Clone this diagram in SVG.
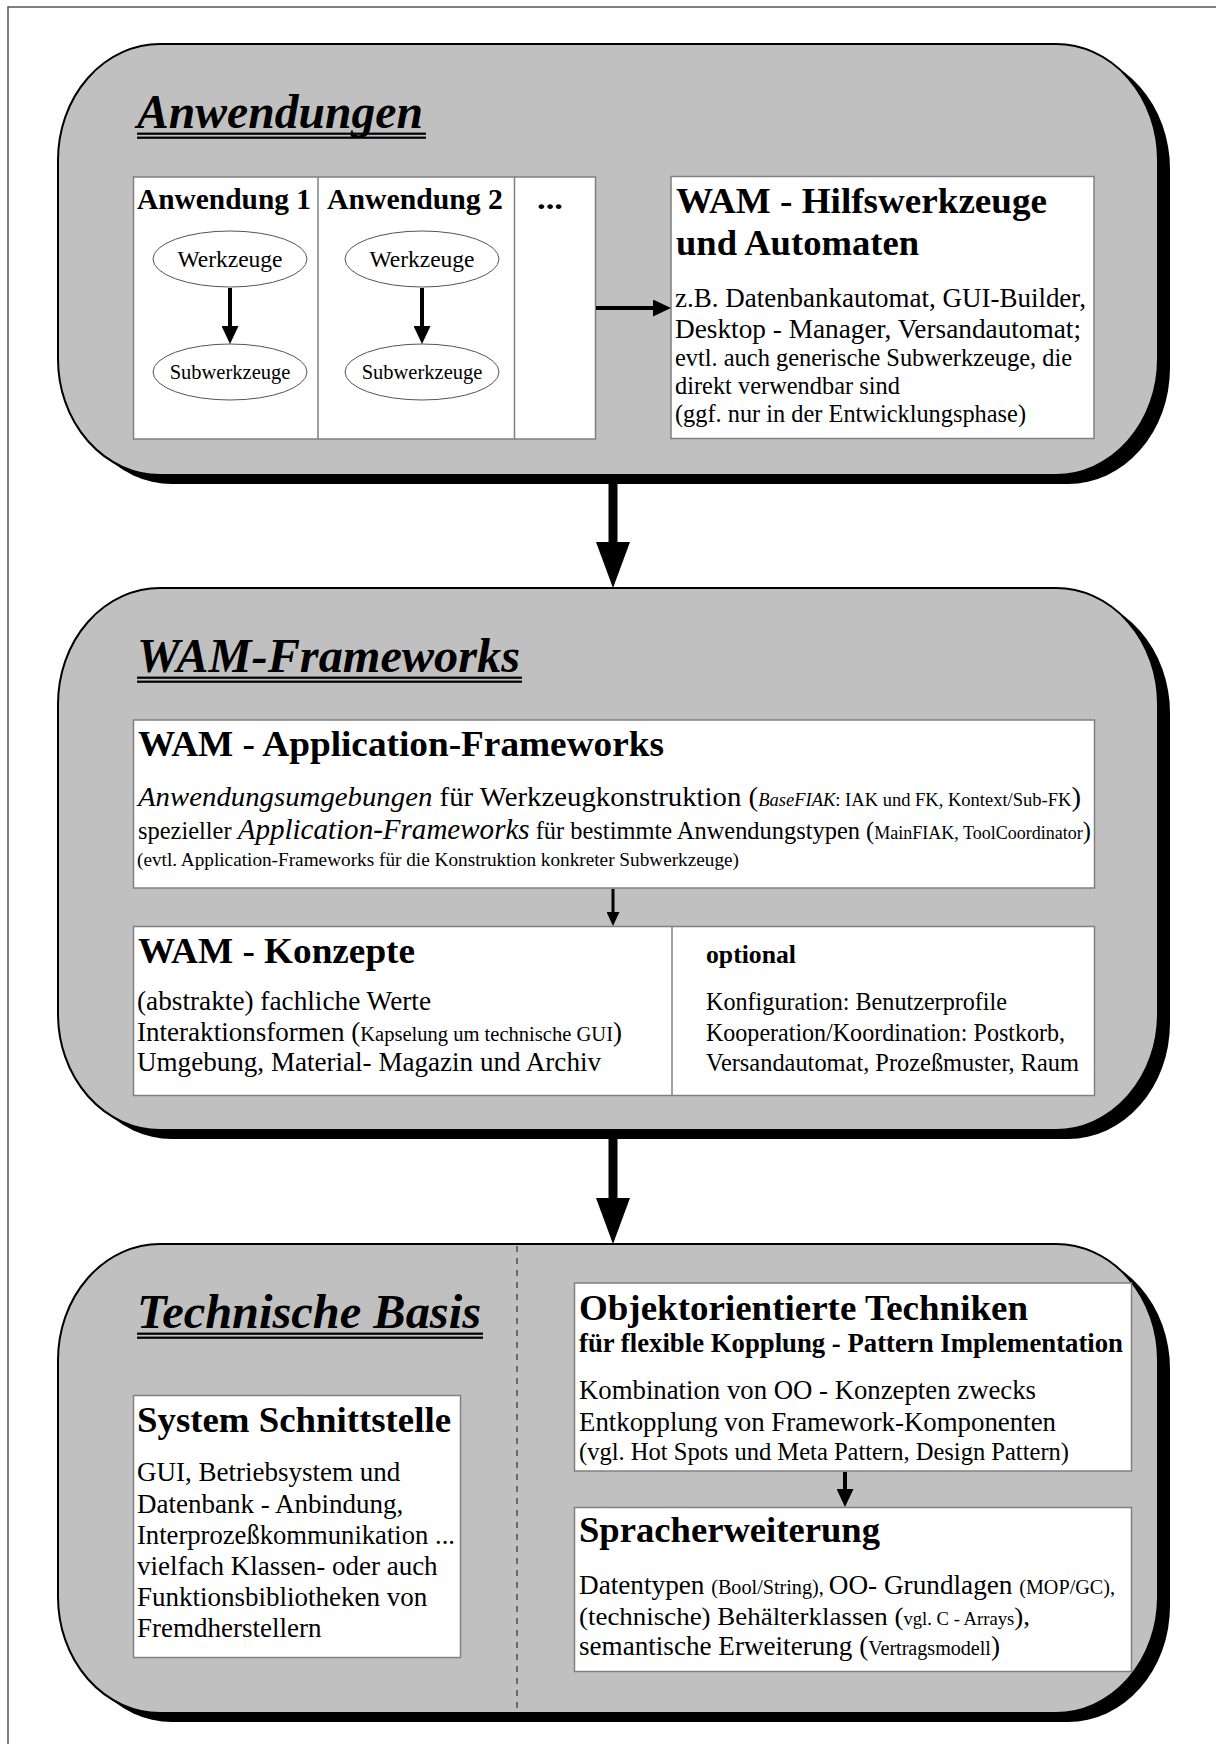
<svg xmlns="http://www.w3.org/2000/svg" width="1216" height="1744" viewBox="0 0 1216 1744">
  <style>
    text { font-family: 'Liberation Serif', 'Times New Roman', serif; fill: #000; }
    .frame { stroke: #555; stroke-width: 1.5; fill: none; }
    .panel { fill: #c0c0c0; stroke: #000; stroke-width: 2; }
    .shadow { fill: #000; }
    .box { fill: #fff; stroke: #808080; stroke-width: 1.5; }
    .sep { stroke: #808080; stroke-width: 1.5; }
    .oval { fill: #fff; stroke: #555; stroke-width: 1; }
    .uline { fill: #000; }
    .ttl { font-size: 47.5px; font-weight: bold; font-style: italic; }
    .h1 { font-size: 36.7px; font-weight: bold; }
    .h2 { font-size: 30px; font-weight: bold; }
    .hb { font-size: 26.7px; font-weight: bold; }
    .hs { font-size: 25.5px; font-weight: bold; }
    .t29 { font-size: 29px; }
    .t28 { font-size: 28px; }
    .t27 { font-size: 27px; }
    .t26 { font-size: 26px; }
    .t24 { font-size: 24.4px; }
    .t205 { font-size: 20.5px; }
    .t20 { font-size: 20px; }
    .t19 { font-size: 19px; }
    .t18 { font-size: 18px; }
    .it { font-style: italic; }
    .wz { font-size: 23.5px; }
    .swz { font-size: 20.5px; }
    .big { stroke: #000; stroke-width: 9; fill: none; }
    .mid { stroke: #000; stroke-width: 4; fill: none; }
    .small { stroke: #000; stroke-width: 3; fill: none; }
    .dash { stroke: #333; stroke-width: 1.2; stroke-dasharray: 6 6; }
  </style>
  <defs>
    <marker id="headBig" markerUnits="userSpaceOnUse" markerWidth="46" markerHeight="34" viewBox="0 0 46 34" refX="1" refY="17" orient="auto">
      <path d="M0,0 L46,17 L0,34 Z" fill="#000"/>
    </marker>
    <marker id="headMid" markerUnits="userSpaceOnUse" markerWidth="18" markerHeight="17" viewBox="0 0 18 17" refX="1" refY="8.5" orient="auto">
      <path d="M0,0 L18,8.5 L0,17 Z" fill="#000"/>
    </marker>
    <marker id="headSmall" markerUnits="userSpaceOnUse" markerWidth="14" markerHeight="13" viewBox="0 0 14 13" refX="1" refY="6.5" orient="auto">
      <path d="M0,0 L14,6.5 L0,13 Z" fill="#000"/>
    </marker>
  </defs>

  <rect width="1216" height="1744" fill="#fff"/>
  <!-- page frame -->
  <path class="frame" d="M8,1744 L8,7 L1216,7"/>

  <!-- layer: Anwendungen -->
  <g id="panel-anwendungen">
    <rect class="shadow" x="70" y="53" width="1100" height="431" rx="102" ry="116"/>
    <rect class="panel" x="58" y="44" width="1100" height="431" rx="102" ry="116"/>
    <text class="ttl" x="137" y="128" textLength="286" lengthAdjust="spacingAndGlyphs">Anwendungen</text>
    <rect class="uline" x="137" y="132.6" width="289" height="2.2"/>
    <rect class="uline" x="137" y="136.6" width="289" height="2.2"/>
  </g>

  <g id="node-anwendungen-liste">
    <rect class="box" x="133.5" y="177" width="462" height="262"/>
    <line class="sep" x1="318" y1="177" x2="318" y2="439"/>
    <line class="sep" x1="514.5" y1="177" x2="514.5" y2="439"/>
    <text class="h2" x="137" y="209" textLength="174" lengthAdjust="spacingAndGlyphs">Anwendung 1</text>
    <text class="h2" x="327" y="209" textLength="176" lengthAdjust="spacingAndGlyphs">Anwendung 2</text>
    <text class="h2" x="537" y="209" textLength="26" lengthAdjust="spacingAndGlyphs">...</text>
  </g>

  <g id="node-werkzeuge-1">
    <ellipse class="oval" cx="230" cy="259" rx="77" ry="28"/>
    <text class="wz" x="230" y="267" text-anchor="middle">Werkzeuge</text>
  </g>
  <g id="node-subwerkzeuge-1">
    <ellipse class="oval" cx="230" cy="372" rx="77" ry="28"/>
    <text class="swz" x="230" y="379" text-anchor="middle">Subwerkzeuge</text>
  </g>
  <g id="node-werkzeuge-2">
    <ellipse class="oval" cx="422" cy="259" rx="77" ry="28"/>
    <text class="wz" x="422" y="267" text-anchor="middle">Werkzeuge</text>
  </g>
  <g id="node-subwerkzeuge-2">
    <ellipse class="oval" cx="422" cy="372" rx="77" ry="28"/>
    <text class="swz" x="422" y="379" text-anchor="middle">Subwerkzeuge</text>
  </g>

  <g id="node-hilfswerkzeuge">
    <rect class="box" x="671" y="176.5" width="423" height="262"/>
    <text class="h1" x="676" y="213" textLength="371" lengthAdjust="spacingAndGlyphs">WAM - Hilfswerkzeuge</text>
    <text class="h1" x="676" y="255" textLength="243" lengthAdjust="spacingAndGlyphs">und Automaten</text>
    <text class="t27" x="675" y="307" textLength="411" lengthAdjust="spacingAndGlyphs">z.B. Datenbankautomat, GUI-Builder,</text>
    <text class="t27" x="675" y="338" textLength="406" lengthAdjust="spacingAndGlyphs">Desktop - Manager, Versandautomat;</text>
    <text class="t24" x="675" y="366" textLength="397" lengthAdjust="spacingAndGlyphs">evtl. auch generische Subwerkzeuge, die</text>
    <text class="t24" x="675" y="394">direkt verwendbar sind</text>
    <text class="t24" x="675" y="422" textLength="351" lengthAdjust="spacingAndGlyphs">(ggf. nur in der Entwicklungsphase)</text>
  </g>

  <!-- layer: WAM-Frameworks -->
  <g id="panel-frameworks">
    <rect class="shadow" x="70" y="597" width="1100" height="542" rx="102" ry="116"/>
    <rect class="panel" x="58" y="588" width="1100" height="542" rx="102" ry="116"/>
    <text class="ttl" x="137" y="672" textLength="383" lengthAdjust="spacingAndGlyphs">WAM-Frameworks</text>
    <rect class="uline" x="137" y="676.6" width="385" height="2.2"/>
    <rect class="uline" x="137" y="680.6" width="385" height="2.2"/>
  </g>

  <g id="node-application-frameworks">
    <rect class="box" x="133.5" y="720" width="961" height="168"/>
    <text class="h1" x="138" y="756" textLength="526" lengthAdjust="spacingAndGlyphs">WAM - Application-Frameworks</text>
    <text x="138" y="806" textLength="943" lengthAdjust="spacingAndGlyphs"><tspan class="t28 it">Anwendungsumgebungen</tspan><tspan class="t28"> für Werkzeugkonstruktion (</tspan><tspan class="t18 it">BaseFIAK</tspan><tspan class="t18">: IAK und FK, Kontext/Sub-FK</tspan><tspan class="t28">)</tspan></text>
    <text x="138" y="839" textLength="953" lengthAdjust="spacingAndGlyphs"><tspan class="t24">spezieller </tspan><tspan class="t29 it">Application-Frameworks</tspan><tspan class="t24"> für bestimmte Anwendungstypen (</tspan><tspan class="t18">MainFIAK, ToolCoordinator</tspan><tspan class="t24">)</tspan></text>
    <text class="t19" x="137" y="866" textLength="602" lengthAdjust="spacingAndGlyphs">(evtl. Application-Frameworks für die Konstruktion konkreter Subwerkzeuge)</text>
  </g>

  <g id="node-konzepte">
    <rect class="box" x="133.5" y="926.5" width="961" height="169"/>
    <line class="sep" x1="672" y1="926.5" x2="672" y2="1095.5"/>
    <text class="h1" x="138" y="963" textLength="277" lengthAdjust="spacingAndGlyphs">WAM - Konzepte</text>
    <text class="t27" x="137" y="1010" textLength="294" lengthAdjust="spacingAndGlyphs">(abstrakte) fachliche Werte</text>
    <text x="137" y="1041" textLength="485" lengthAdjust="spacingAndGlyphs"><tspan class="t27">Interaktionsformen (</tspan><tspan class="t205">Kapselung um technische GUI</tspan><tspan class="t27">)</tspan></text>
    <text class="t27" x="137" y="1071" textLength="464" lengthAdjust="spacingAndGlyphs">Umgebung, Material- Magazin und Archiv</text>
  </g>

  <g id="node-optional">
    <text class="hs" x="706" y="963" textLength="90" lengthAdjust="spacingAndGlyphs">optional</text>
    <text class="t24" x="706" y="1010" textLength="301" lengthAdjust="spacingAndGlyphs">Konfiguration: Benutzerprofile</text>
    <text class="t24" x="706" y="1041" textLength="359" lengthAdjust="spacingAndGlyphs">Kooperation/Koordination: Postkorb,</text>
    <text class="t24" x="706" y="1071" textLength="373" lengthAdjust="spacingAndGlyphs">Versandautomat, Prozeßmuster, Raum</text>
  </g>

  <!-- layer: Technische Basis -->
  <g id="panel-technik">
    <rect class="shadow" x="70" y="1253" width="1100" height="469" rx="102" ry="116"/>
    <rect class="panel" x="58" y="1244" width="1100" height="469" rx="102" ry="116"/>
    <line class="dash" x1="517" y1="1246" x2="517" y2="1711"/>
    <text class="ttl" x="137" y="1328" textLength="344" lengthAdjust="spacingAndGlyphs">Technische Basis</text>
    <rect class="uline" x="137" y="1332.6" width="346" height="2.2"/>
    <rect class="uline" x="137" y="1336.6" width="346" height="2.2"/>
  </g>

  <g id="node-system-schnittstelle">
    <rect class="box" x="133.5" y="1395.5" width="327" height="262"/>
    <text class="h1" x="137" y="1432" textLength="314" lengthAdjust="spacingAndGlyphs">System Schnittstelle</text>
    <text class="t27" x="137" y="1481">GUI, Betriebsystem und</text>
    <text class="t27" x="137" y="1513">Datenbank - Anbindung,</text>
    <text class="t27" x="137" y="1544" textLength="318" lengthAdjust="spacingAndGlyphs">Interprozeßkommunikation ...</text>
    <text class="t27" x="137" y="1575">vielfach Klassen- oder auch</text>
    <text class="t27" x="137" y="1606">Funktionsbibliotheken von</text>
    <text class="t27" x="137" y="1637">Fremdherstellern</text>
  </g>

  <g id="node-oo-techniken">
    <rect class="box" x="574.5" y="1283" width="557" height="188"/>
    <text class="h1" x="579" y="1320" textLength="449" lengthAdjust="spacingAndGlyphs">Objektorientierte Techniken</text>
    <text class="hb" x="579" y="1352" textLength="544" lengthAdjust="spacingAndGlyphs">für flexible Kopplung - Pattern Implementation</text>
    <text class="t27" x="579" y="1399" textLength="457" lengthAdjust="spacingAndGlyphs">Kombination von OO - Konzepten zwecks</text>
    <text class="t27" x="579" y="1431" textLength="477" lengthAdjust="spacingAndGlyphs">Entkopplung von Framework-Komponenten</text>
    <text class="t24" x="579" y="1460" textLength="490" lengthAdjust="spacingAndGlyphs">(vgl. Hot Spots und Meta Pattern, Design Pattern)</text>
  </g>

  <g id="node-spracherweiterung">
    <rect class="box" x="574.5" y="1507.5" width="557" height="164"/>
    <text class="h1" x="579" y="1542" textLength="301" lengthAdjust="spacingAndGlyphs">Spracherweiterung</text>
    <text x="579" y="1594" textLength="536" lengthAdjust="spacingAndGlyphs"><tspan class="t27">Datentypen </tspan><tspan class="t20">(Bool/String), </tspan><tspan class="t27">OO- Grundlagen </tspan><tspan class="t20">(MOP/GC),</tspan></text>
    <text x="579" y="1625" textLength="451" lengthAdjust="spacingAndGlyphs"><tspan class="t26">(technische) Behälterklassen (</tspan><tspan class="t18">vgl. C - Arrays</tspan><tspan class="t26">),</tspan></text>
    <text x="579" y="1655" textLength="421" lengthAdjust="spacingAndGlyphs"><tspan class="t27">semantische Erweiterung (</tspan><tspan class="t20">Vertragsmodell</tspan><tspan class="t27">)</tspan></text>
  </g>

  <!-- connectors -->
  <g id="connectors">
    <line class="big" x1="613" y1="484" x2="613" y2="543" marker-end="url(#headBig)"/>
    <line class="big" x1="613" y1="1139" x2="613" y2="1199" marker-end="url(#headBig)"/>
    <line class="mid" x1="230" y1="288" x2="230" y2="327" marker-end="url(#headMid)"/>
    <line class="mid" x1="422" y1="288" x2="422" y2="327" marker-end="url(#headMid)"/>
    <line class="mid" x1="596" y1="308" x2="654" y2="308" marker-end="url(#headMid)"/>
    <line class="small" x1="613" y1="889" x2="613" y2="913" marker-end="url(#headSmall)"/>
    <line class="mid" x1="845" y1="1472" x2="845" y2="1490" marker-end="url(#headMid)"/>
  </g>
</svg>
